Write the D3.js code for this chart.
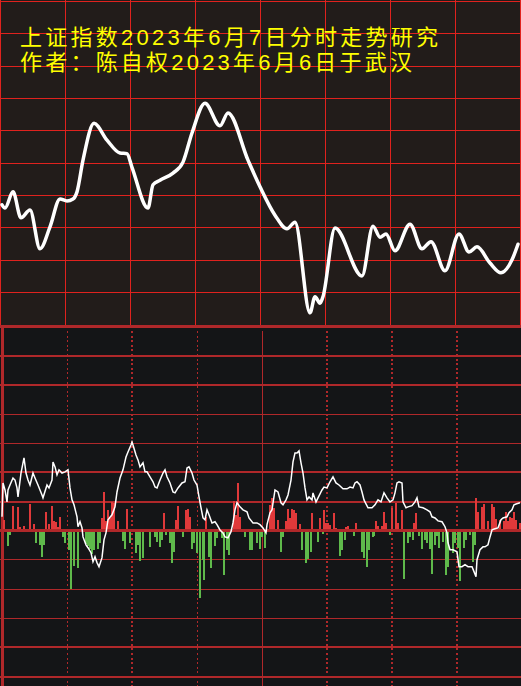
<!DOCTYPE html>
<html><head><meta charset="utf-8">
<script src="https://cdn.jsdelivr.net/npm/d3@7"></script>
<style>html,body{margin:0;padding:0;background:#141517;overflow:hidden}</style>
</head><body><svg id="c" width="521" height="686"></svg>
<script>
// ---------- DATA ----------
const titleLines = ["上证指数2023年6月7日分时走势研究", "作者：陈自权2023年6月6日于武汉"];
// top panel: [sample, index level]
const pricePath = [[0,3188.5],[1.5,3188.0],[5.5,3190.5],[9.5,3186.5],[14,3187.7],[19,3181.7],[24,3185.1],[29,3189.4],[32.5,3189.1],[35.5,3189.4],[37.5,3190.5],[40.5,3195.4],[46,3201.1],[52.5,3198.5],[59,3196.5],[62.5,3196.4],[65,3194.3],[73,3188.0],[75.5,3191.6],[79,3192.3],[85.5,3193.4],[90.5,3195.1],[95,3199.6],[101.5,3204.2],[109,3200.7],[113,3202.7],[123,3195.4],[129,3191.3],[136.5,3186.9],[142.5,3184.8],[146.5,3185.8],[154,3171.8],[156.5,3174.3],[159,3173.3],[160.5,3174.3],[166.5,3184.9],[180,3177.5],[185.5,3185.2],[189,3183.5],[192,3184.0],[196.5,3181.4],[204,3185.5],[210,3181.7],[214.5,3182.8],[221.5,3178.3],[228.5,3184.0],[233.5,3181.2],[237.5,3182.0],[244,3179.5],[249.5,3178.0],[255,3180.0],[258,3182.4]];
// bottom panel: white flow line [sample, value]
const flowLine = [[0,4.8],[0.5,16.4],[1.5,14.0],[2.5,9.9],[3,14.0],[4,15.7],[5.5,18.1],[6.5,17.4],[7.5,14.7],[8,11.6],[9.5,19.8],[10.5,23.3],[11,25.0],[12,19.8],[13,17.4],[14,15.7],[15.5,19.8],[16.5,18.1],[18,15.7],[19,14.0],[20,12.3],[20.5,11.3],[22.5,15.7],[23.5,14.7],[25,17.4],[25.5,23.6],[26.5,21.9],[27.5,19.2],[28.5,20.9],[30,19.8],[31.5,20.2],[33,20.9],[34,14.7],[35,10.6],[36,8.9],[37.5,4.8],[38,1.4],[39,3.1],[40,1.0],[40.5,-2.1],[42,-4.8],[43,-5.8],[44.5,-7.5],[45.5,-10.6],[46.5,-8.9],[47.5,-10.9],[48.5,-12.3],[50,-9.2],[51,-3.1],[52,-0.7],[53,3.8],[55,5.5],[56.5,8.2],[57.5,13.3],[59,18.1],[60.5,20.9],[62,25.3],[63,27.0],[64.5,29.4],[65,30.4],[65.5,29.4],[67,26.0],[68,24.3],[69,21.9],[70.5,23.3],[71.5,20.2],[72.5,20.2],[74,18.5],[75.5,16.8],[76.5,15.0],[77.5,14.7],[79,17.4],[80.5,19.8],[81.5,20.9],[82.5,18.5],[84,16.4],[85.5,13.3],[86.5,13.0],[88,14.7],[90,16.4],[91.5,16.8],[92.5,21.5],[93.5,21.9],[95,19.8],[96,17.4],[97.5,15.7],[98.5,11.6],[99.5,7.9],[100.5,4.4],[101.5,3.8],[102.5,7.2],[103.5,5.5],[105,2.7],[106.5,3.1],[107.5,2.1],[109,0.3],[110.5,-0.7],[111.5,-2.1],[113,-2.4],[114.5,-0.3],[115.5,2.7],[116.5,7.2],[117.5,9.6],[119,8.2],[120.5,7.2],[122.5,6.5],[123.5,4.4],[125.5,2.7],[127.5,2.7],[129,2.1],[130.5,1.0],[132,-0.7],[132.5,2.1],[134,6.2],[135,7.2],[136.5,14.0],[138,13.3],[139.5,9.6],[140.5,8.9],[142,10.6],[143,12.3],[144.5,17.4],[145.5,23.6],[146.5,26.7],[147.5,26.7],[148.5,27.4],[149.5,23.3],[150.5,19.8],[151.5,14.7],[152.5,10.6],[153.5,11.6],[155,10.6],[155.5,13.0],[157,9.9],[158,11.3],[160,14.0],[161,15.0],[162.5,14.7],[164,16.8],[165.5,18.5],[167,16.4],[168.5,15.7],[170.5,14.4],[172.5,14.4],[174,15.0],[175.5,14.7],[176.5,16.4],[177.5,16.8],[179,15.7],[180,13.3],[181,10.6],[182,9.2],[183,7.9],[185,7.9],[186.5,8.9],[188,10.6],[189.5,9.9],[191,13.0],[192.5,11.3],[194,9.9],[195.5,10.6],[196.5,13.0],[197.5,16.4],[198.5,16.8],[200,16.4],[200.5,9.9],[202,7.9],[203,8.2],[205,8.6],[206.5,9.9],[207.5,11.3],[208.5,8.2],[210.5,7.9],[212.5,7.2],[214,6.5],[215,4.8],[216.5,4.4],[218,3.4],[220,3.1],[221.5,1.4],[222.5,-0.7],[223,-4.1],[224,-6.5],[225.5,-6.5],[227.5,-7.2],[228.5,-12.3],[230,-12.3],[231.5,-11.6],[233,-12.3],[235,-12.3],[236,-14.0],[237,-15.7],[237.5,-9.9],[239,-6.5],[240.5,-5.5],[241.5,-5.5],[243,-4.8],[244,-2.1],[245,0.3],[246.5,0.7],[248,1.0],[249.5,3.8],[250.5,4.4],[252.5,4.8],[253.5,6.2],[255,7.2],[256,8.9],[257,9.2],[259,9.6]];
// bottom panel: bars [sample, value] (positive red, negative green)
const flowBars = [[1,3.8],[5.5,8.6],[8,8.2],[9,1.4],[11,1.7],[12,0.7],[14,9.2],[16,2.4],[22,6.5],[23.5,2.4],[25,8.6],[26,3.4],[27,3.1],[28,1.4],[29,4.8],[50,4.4],[51,13.3],[52,3.5],[53,7.2],[54,4.4],[55,9.9],[56,9.6],[58,3.2],[62.5,7.5],[81,6.2],[87,3.8],[88,8.6],[92,7.2],[93,7.4],[94,4.7],[102,4.8],[116,10.3],[117,5.5],[118,16.4],[119,4.9],[134,8.9],[135,11.3],[136,7.8],[138,3.8],[142,3.5],[143,7.5],[144,4.3],[145,7.5],[146,7.2],[147,6.2],[149,2.4],[155,6.2],[159,4.4],[161,7.2],[162,2.6],[163,2.6],[164,2.1],[166,6.2],[167,1.0],[172,1.3],[173,1.7],[177,2.7],[187,3.4],[188,1.7],[190,1.7],[191,6.5],[192,2.8],[195,7.8],[197,9.6],[198,2.6],[200,7.2],[206,2.8],[207,6.2],[237,11.3],[238,6.5],[240,8.3],[241,9.2],[243,3.5],[245,9.2],[246,8.1],[247,4.0],[249,3.8],[251,3.2],[252,6.6],[253,3.5],[254,4.7],[255,4.4],[256,6.3],[257,3.8],[259,2.6],
[3,-5.1],[4,-1.4],[17,-4.1],[19,-4.8],[20,-8.9],[21,-4.8],[30.5,-2.1],[31.5,-4.1],[33.5,-6.5],[34.5,-19.8],[36,-12.0],[38,-12.7],[42,-4.4],[43,-5.1],[44,-6.3],[45,-7.9],[46,-6.5],[48,-6.2],[49,-4.2],[60.5,-3.4],[61.5,-6.3],[64,-4.2],[67,-7.5],[68,-4.8],[69,-10.3],[70.5,-9.2],[74,-5.5],[76.5,-2.1],[77.5,-4.0],[79,-5.5],[80,-3.1],[82,-1.4],[84,-4.1],[85,-10.9],[86,-7.1],[90.5,-2.2],[95,-6.2],[96,-4.2],[97.5,-7.5],[99,-22.9],[100.5,-9.9],[101,-16.8],[103.5,-8.9],[104.5,-12.7],[106.5,-5.1],[107.5,-2.5],[110,-2.5],[111,-15.0],[112.5,-6.5],[113.5,-8.2],[121.5,-2.1],[124,-6.5],[125,-6.5],[127.5,-4.1],[129,-6.2],[130,-2.2],[131.5,-5.8],[139.5,-7.2],[140.5,-2.2],[150,-6.5],[152,-10.9],[153,-9.7],[154.5,-7.1],[158,-3.8],[160.5,-1.0],[169,-8.6],[170,-6.5],[171.5,-3.3],[176,-1.7],[180,-7.2],[181,-9.2],[182.5,-12.3],[183.5,-6.7],[185.5,-2.2],[186,-1.7],[194,-1.4],[201,-16.4],[203,-4.1],[204,-2.2],[205.5,-3.1],[208.5,-1.7],[210,-6.2],[211.5,-3.3],[212.5,-4.2],[214,-6.2],[215,-14.7],[216.5,-4.8],[217.5,-1.9],[218.5,-5.9],[220.5,-4.0],[222,-15.0],[223,-12.3],[225.5,-7.5],[226.5,-4.2],[228,-5.9],[229,-17.1],[231,-5.9],[232,-3.1],[234,-1.4],[235.5,-10.6],[236.5,-4.8]];
const topLevels = d3.range(3170, 3221, 5);
const bottomLevels = d3.range(-50, 71, 10);

// ---------- DRAW ----------
const svg = d3.select('#c');
const W = 521, H = 686;
const x = d3.scaleLinear().domain([0, 259]).range([2, 520]);
const yTop = d3.scaleLinear().domain([3170, 3220]).range([324.5, 1]);
const yBot = d3.scaleLinear().domain([-53.2, 70.2]).range([686, 326]);
const colTop = d3.scaleLinear().domain([0, 8]).range([0.5, 520.5]);
const colBot = d3.scaleLinear().domain([0, 8]).range([2, 522]);

// backgrounds
svg.append('rect').attr('x',0).attr('y',0).attr('width',W).attr('height',325).attr('fill','#221c1a');
svg.append('rect').attr('x',0).attr('y',325).attr('width',W).attr('height',H-325).attr('fill','#141517');

// top grid
const gTop = svg.append('g').attr('shape-rendering','crispEdges');
gTop.selectAll('line.h').data(topLevels).join('line')
  .attr('x1',0).attr('x2',W)
  .attr('y1',d=>Math.round(yTop(d))+0.5).attr('y2',d=>Math.round(yTop(d))+0.5)
  .attr('stroke','#e0221e').attr('stroke-width',1.3);
gTop.selectAll('line.v').data(d3.range(0,9)).join('line')
  .attr('x1',d=>colTop(d)).attr('x2',d=>colTop(d))
  .attr('y1',0).attr('y2',325)
  .attr('stroke','#e0221e').attr('stroke-width',1.3);

// title
svg.selectAll('text.title').data(titleLines).join('text')
  .attr('x',20).attr('y',(d,i)=>45+i*25)
  .attr('fill','#ffff00')
  .attr('font-family','"Liberation Sans", "Noto Sans CJK SC", sans-serif')
  .attr('font-size',22)
  .attr('textLength',(d,i)=>i===0?418:392)
  .attr('lengthAdjust','spacing')
  .text(d=>d);

// top price line
svg.append('path').datum(pricePath)
  .attr('fill','none').attr('stroke','#ffffff').attr('stroke-width',3.5)
  .attr('stroke-linejoin','round').attr('stroke-linecap','round')
  .attr('d', d3.line().x(d=>x(d[0])).y(d=>yTop(d[1])).curve(d3.curveMonotoneX));

// bottom grid
const gridW = {70:3,60:2,50:2,40:1,30:1,20:2,10:2,0:3,'-10':1,'-20':1,'-30':1,'-40':2,'-50':2};
const gBot = svg.append('g').attr('shape-rendering','crispEdges');
gBot.selectAll('line.h').data(bottomLevels.filter(d=>d!==0)).join('line')
  .attr('x1',0).attr('x2',W)
  .attr('y1',d=>yBot(d)).attr('y2',d=>yBot(d))
  .attr('stroke','#b0282a').attr('stroke-width',d=>gridW[d]);
gBot.append('line').attr('x1',colBot(0)).attr('x2',colBot(0)).attr('y1',325).attr('y2',H)
  .attr('stroke','#b0282a').attr('stroke-width',3);
const vStyle = {1:[1,true],2:[2,true],3:[1,true],4:[1,false],5:[2,true],6:[2,true],7:[2,true]};
gBot.selectAll('line.v').data(d3.range(1,8)).join('line')
  .attr('x1',d=>Math.round(colBot(d))).attr('x2',d=>Math.round(colBot(d)))
  .attr('y1',331).attr('y2',H)
  .attr('stroke','#b0282a').attr('stroke-width',d=>vStyle[d][0])
  .attr('stroke-dasharray',d=>vStyle[d][1]?'2,2.6':null);

// bars
svg.append('g').attr('shape-rendering','crispEdges')
  .selectAll('rect').data(flowBars).join('rect')
  .attr('x',d=>x(d[0])-1).attr('width',2)
  .attr('y',d=>d[1]>0?yBot(d[1]):yBot(0))
  .attr('height',d=>Math.abs(yBot(d[1])-yBot(0)))
  .attr('fill',d=>d[1]>0?'#e0393a':'#5fb94b');

// zero line
svg.append('line').attr('x1',0).attr('x2',W).attr('y1',yBot(0)).attr('y2',yBot(0))
  .attr('stroke','#b0282a').attr('stroke-width',3).attr('shape-rendering','crispEdges');

// flow line
svg.append('path').datum(flowLine)
  .attr('fill','none').attr('stroke','#ffffff').attr('stroke-width',1.5)
  .attr('d', d3.line().x(d=>x(d[0])).y(d=>yBot(d[1])));
</script>
</body></html>
